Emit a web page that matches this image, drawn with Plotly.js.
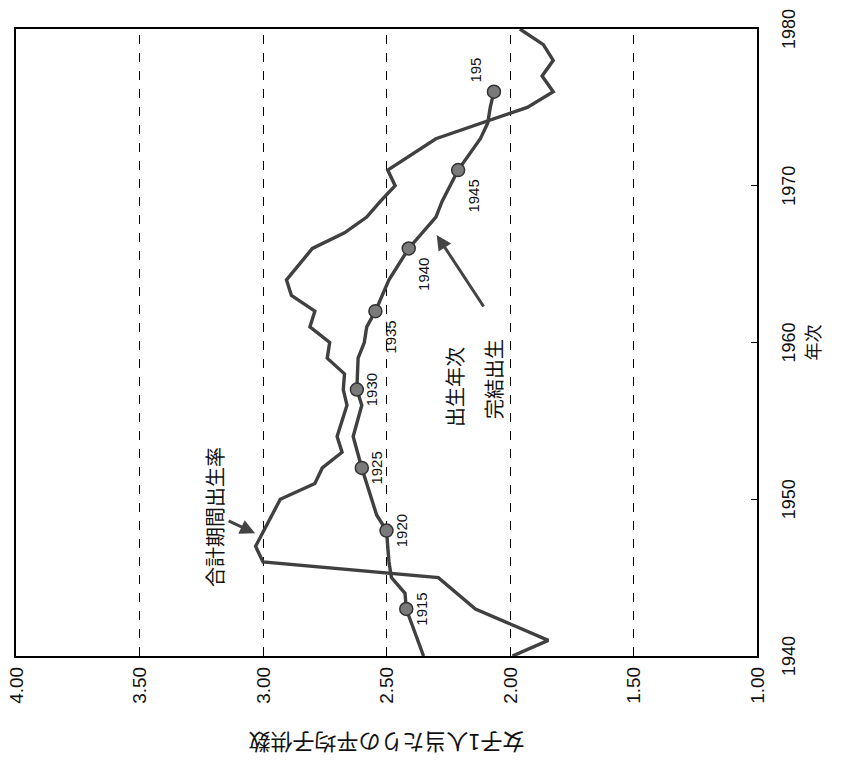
<!DOCTYPE html>
<html>
<head>
<meta charset="utf-8">
<script src="https://cdn.plot.ly/plotly-3.0.1.min.js"></script>
<style>
  html, body { margin: 0; padding: 0; background: #fff; overflow: hidden; }
  #wrap { position: absolute; left: 0; top: 0; width: 771px; height: 844px;
          transform-origin: 0 0; transform: translateY(771px) rotate(-90deg); }
</style>
</head>
<body>
<div id="wrap"></div>
<script>
// Period total fertility rate (合計期間出生率) — vertices
const periodYears = [1940,1941,1943,1945,1946,1947,1950,1951,1952,1953,1954,1956,1957,1958,1959,1960,1961,1962,1963,1964,1966,1967,1968,1969,1970,1971,1973,1975,1976,1977,1978,1979,1980];
const periodTFR   = [1.99,1.845,2.14,2.29,3.00,3.03,2.93,2.79,2.76,2.68,2.70,2.66,2.675,2.67,2.74,2.73,2.81,2.79,2.885,2.905,2.80,2.67,2.58,2.525,2.465,2.495,2.30,1.93,1.825,1.87,1.825,1.865,1.96];

// Completed cohort fertility (完結出生), plotted against period year
const cohortYears = [1940,1943,1944,1945,1946,1948,1949,1952,1954,1956,1957,1959,1960,1961,1962,1964,1966,1968,1969,1971,1973,1974,1975,1976];
const cohortCFR   = [2.35,2.42,2.425,2.48,2.49,2.50,2.54,2.60,2.635,2.60,2.62,2.615,2.59,2.58,2.545,2.49,2.41,2.30,2.275,2.21,2.12,2.09,2.08,2.065];

// Marked birth cohorts
const markerYears  = [1943,1948,1952,1957,1962,1966,1971,1976];
const markerLabels = ['1915','1920','1925','1930','1935','1940','1945','195'];

// Axis ticks
const yearTicks  = [1940,1950,1960,1970,1980];
const valueTicks = [1.00,1.50,2.00,2.50,3.00,3.50,4.00];

const markerValues = markerYears.map(y => cohortCFR[cohortYears.indexOf(y)]);
const lineColor = '#404040';

const traces = [
  { x: periodYears, y: periodTFR, type: 'scatter', mode: 'lines',
    line: { color: lineColor, width: 3.4 }, hoverinfo: 'skip', showlegend: false },
  { x: cohortYears, y: cohortCFR, type: 'scatter', mode: 'lines',
    line: { color: lineColor, width: 3.4 }, hoverinfo: 'skip', showlegend: false },
  { x: markerYears, y: markerValues, type: 'scatter', mode: 'markers+text',
    marker: { size: 13, color: '#7a7a7a', line: { color: '#333', width: 1.5 } },
    text: markerLabels,
    textposition: ['bottom center','bottom center','bottom center','bottom center','bottom left','bottom left','bottom left','top right'],
    textfont: { family: 'Liberation Sans, Arial, sans-serif', size: 15, color: '#111' },
    hoverinfo: 'skip', showlegend: false }
];

const cjk = '"Noto Sans CJK JP", "Noto Sans", sans-serif';
const layout = {
  width: 771, height: 844,
  margin: { l: 115, r: 29, t: 16, b: 87 },
  paper_bgcolor: '#fff', plot_bgcolor: '#fff',
  font: { family: 'Liberation Sans, Arial, sans-serif', size: 18, color: '#111' },
  xaxis: {
    range: [1940, 1980], tickvals: yearTicks, ticktext: yearTicks.map(String),
    showgrid: false, zeroline: false,
    showline: true, mirror: true, linecolor: '#000', linewidth: 2,
    ticks: 'inside', ticklen: 6, tickcolor: '#000',
    tickfont: { size: 18 },
    ticklabelstandoff: 14,
    title: { text: '年次', font: { family: cjk, size: 18, color: '#111' }, standoff: 6 }
  },
  yaxis: {
    range: [1, 4], tickvals: valueTicks, ticktext: valueTicks.map(v => v.toFixed(2)),
    showgrid: true, gridcolor: '#000', gridwidth: 1, griddash: 'dash',
    zeroline: false,
    showline: true, mirror: true, linecolor: '#000', linewidth: 2,
    ticks: 'inside', ticklen: 6, tickcolor: '#000',
    tickfont: { size: 19 },
    ticklabelstandoff: 5,
    title: { text: '女子1人当たりの平均子供数', font: { family: cjk, size: 22, color: '#111' }, standoff: 24 }
  },
  annotations: [
    { x: 1948.84, y: 3.198, xref: 'x', yref: 'y', text: '合計期間出生率', showarrow: false,
      font: { family: cjk, size: 20, color: '#111' } },
    { x: 1947.83, y: 3.032, xref: 'x', yref: 'y', ax: 13, ay: -28, text: '',
      showarrow: true, arrowhead: 2, arrowsize: 1, arrowwidth: 3, arrowcolor: '#444' },
    { x: 1957.19, y: 2.223, xref: 'x', yref: 'y', text: '出生年次', showarrow: false,
      font: { family: cjk, size: 20, color: '#111' } },
    { x: 1957.70, y: 2.065, xref: 'x', yref: 'y', text: '完結出生', showarrow: false,
      font: { family: cjk, size: 20, color: '#111' } },
    { x: 1966.86, y: 2.297, xref: 'x', yref: 'y', ax: -73, ay: 48, text: '',
      showarrow: true, arrowhead: 2, arrowsize: 1, arrowwidth: 3, arrowcolor: '#444' }
  ]
};

Plotly.newPlot('wrap', traces, layout, { displayModeBar: false, staticPlot: true });
</script>
</body>
</html>
